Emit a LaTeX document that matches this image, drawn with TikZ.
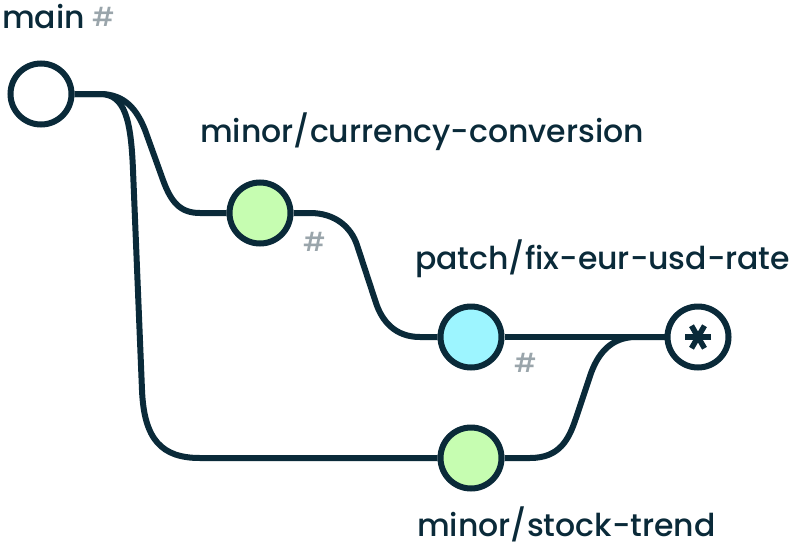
\documentclass[tikz,border=0pt]{standalone}
\usepackage{fontspec}
\setmainfont{Poppins}[UprightFont={* Medium}]
\usetikzlibrary{backgrounds}
\definecolor{ink}{HTML}{0A2A39}
\definecolor{lgreen}{HTML}{C6FDB1}
\definecolor{lblue}{HTML}{9DF5FF}
\definecolor{hashgrey}{HTML}{9AA5AB}
\tikzset{
  commit/.style={circle, draw=ink, line width=6pt, minimum size=61pt, inner sep=0pt},
  branch/.style={draw=ink, line width=6pt, line join=round},
  lbl/.style={anchor=base west, inner sep=0pt, text=ink, font=\fontsize{31.5}{31.5}\selectfont},
  hash/.style={anchor=base west, inner sep=0pt, text=hashgrey, font=\fontsize{26}{26}\selectfont},
  star/.style={draw=ink, line width=5.5pt}
}
\begin{document}
\begin{tikzpicture}[x=1pt, y=-1pt]
\useasboundingbox (0,0) rectangle (800,546);
% commits
\node[commit, fill=white]  (main)  at (41,94)   {};
\node[commit, fill=lgreen] (cur)   at (260,213) {};
\node[commit, fill=lblue]  (patch) at (471,337) {};
\node[commit, fill=white]  (merge) at (698,337) {};
\node[commit, fill=lgreen] (stock) at (471,458) {};
% asterisk
\foreach \a in {0,60,120}
  \draw[star] ([shift={(\a:13)}]merge.center) -- ([shift={(\a+180:13)}]merge.center);
% branches
\begin{scope}[on background layer]
\draw[branch] (main.east) -- (100,94) .. controls (125,94) and (137,110) .. (145,130)
  -- (163,180) .. controls (171,202) and (180,213) .. (200,213) -- (cur.west);
\draw[branch] (main.east) -- (100,94) .. controls (125,94) and (131,120) .. (133,170)
  -- (142,390) .. controls (144,440) and (162,458) .. (200,458) -- (stock.west);
\draw[branch] (cur.east) -- (310,213) .. controls (335,213) and (351,227) .. (357,245)
  -- (376,303) .. controls (382,321) and (395,337) .. (420,337) -- (patch.west);
\draw[branch] (patch.east) -- (merge.west);
\draw[branch] (stock.east) -- (530,458) .. controls (560,458) and (569,439) .. (576,418)
  -- (590,376) .. controls (597,355) and (610,337) .. (636,337) -- (merge.west);
\end{scope}
% labels
\node[lbl] (tmain) at (2,28) {main};
\node[hash] (hmain) at (92,27) {\#};
\node[lbl] (tcur) at (200,142) {minor/currency-conversion};
\node[hash] (hcur) at (303,251) {\#};
\node[lbl] (tpatch) at (415,269) {patch/fix-eur-usd-rate};
\node[hash] (hpatch) at (514,372) {\#};
\node[lbl] (tstock) at (417,536) {minor/stock-trend};
\end{tikzpicture}
\end{document}
